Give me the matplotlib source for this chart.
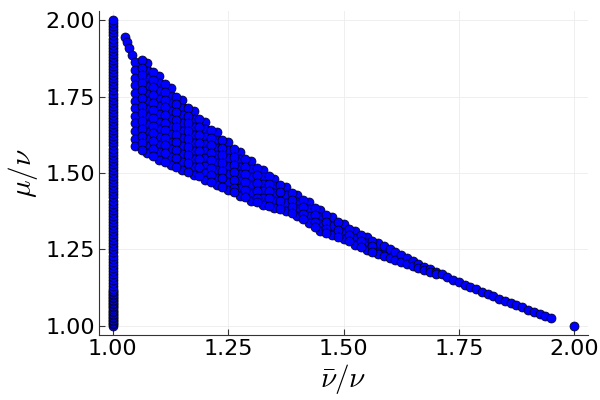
import numpy as np
import matplotlib
matplotlib.use("Agg")
import matplotlib.pyplot as plt

# --- data --- #
# column of points at nu_bar/nu = 1
spine_x = 1.0
spine_y = [1.00, 1.005, 1.01, 1.015, 1.02, 1.025, 1.03, 1.035, 1.04, 1.045,
           1.05, 1.055, 1.06, 1.065, 1.07, 1.075, 1.08, 1.085, 1.09, 1.095,
           1.10, 1.105, 1.11, 1.115, 1.12, 1.13, 1.14, 1.15, 1.16, 1.17,
           1.18, 1.19, 1.20, 1.21, 1.22, 1.23, 1.24, 1.25, 1.26, 1.27,
           1.28, 1.29, 1.30, 1.31, 1.32, 1.33, 1.34, 1.35, 1.36, 1.37,
           1.38, 1.39, 1.40, 1.41, 1.42, 1.43, 1.44, 1.45, 1.46, 1.47,
           1.48, 1.49, 1.50, 1.51, 1.52, 1.53, 1.54, 1.55, 1.56, 1.57,
           1.58, 1.59, 1.60, 1.61, 1.62, 1.63, 1.64, 1.65, 1.66, 1.67,
           1.68, 1.69, 1.70, 1.71, 1.72, 1.73, 1.74, 1.75, 1.76, 1.77,
           1.78, 1.79, 1.80, 1.81, 1.82, 1.83, 1.84, 1.85, 1.86, 1.87,
           1.88, 1.89, 1.90, 1.91, 1.92, 1.93, 1.94, 1.95, 1.96, 1.97,
           1.98, 1.99, 2.00]

# the big band: x of each column and the y values found in it
band_x = [1.026, 1.031, 1.036, 1.041, 1.048, 1.075, 1.10, 1.125, 1.15, 1.175,
          1.20, 1.225, 1.25, 1.275, 1.30, 1.325, 1.35, 1.375, 1.40, 1.425,
          1.45, 1.475, 1.50, 1.525, 1.55, 1.575, 1.5875, 1.60, 1.6125, 1.625,
          1.6375, 1.65, 1.6625, 1.675, 1.6875, 1.70, 1.7125, 1.725, 1.7375, 1.75,
          1.7625, 1.775, 1.7875, 1.80, 1.8125, 1.825, 1.8375, 1.85, 1.8625, 1.875,
          1.8875, 1.90, 1.9125, 1.925, 1.9375, 1.95]
band_y = [
    [1.945], [1.928], [1.908], [1.886],
    [1.862, 1.837, 1.812, 1.787, 1.762, 1.737, 1.712, 1.687, 1.662, 1.637, 1.612, 1.587],
    [1.860, 1.835, 1.810, 1.785, 1.760, 1.735, 1.710, 1.685, 1.660, 1.635, 1.610, 1.588, 1.565],
    [1.818, 1.793, 1.768, 1.743, 1.718, 1.693, 1.668, 1.643, 1.618, 1.593, 1.568, 1.544],
    [1.778, 1.753, 1.728, 1.703, 1.678, 1.653, 1.628, 1.603, 1.578, 1.553, 1.527],
    [1.739, 1.714, 1.689, 1.664, 1.639, 1.614, 1.589, 1.562, 1.536, 1.510],
    [1.702, 1.676, 1.650, 1.624, 1.598, 1.572, 1.546, 1.520, 1.494],
    [1.667, 1.643, 1.619, 1.595, 1.571, 1.548, 1.524, 1.500, 1.477],
    [1.633, 1.608, 1.583, 1.558, 1.533, 1.509, 1.484, 1.460],
    [1.600, 1.574, 1.548, 1.522, 1.496, 1.470, 1.443],
    [1.569, 1.545, 1.521, 1.497, 1.473, 1.450, 1.426],
    [1.538, 1.512, 1.487, 1.461, 1.436, 1.410],
    [1.509, 1.486, 1.464, 1.441, 1.418, 1.396],
    [1.481, 1.457, 1.433, 1.409, 1.385],
    [1.455, 1.428, 1.401, 1.375],
    [1.429, 1.406, 1.383, 1.360],
    [1.404, 1.381, 1.358, 1.335],
    [1.379, 1.356, 1.332, 1.309],
    [1.356, 1.326, 1.296],
    [1.333, 1.308, 1.283],
    [1.311, 1.288, 1.266],
    [1.290, 1.270, 1.249],
    [1.270, 1.235], [1.260, 1.229], [1.250, 1.222], [1.240, 1.216], [1.231, 1.210],
    [1.221, 1.203], [1.212, 1.197], [1.203, 1.190], [1.194, 1.184], [1.185, 1.177],
    [1.176, 1.170], [1.168], [1.159], [1.151], [1.143],
    [1.135], [1.127], [1.119], [1.111], [1.103],
    [1.096], [1.088], [1.081], [1.074], [1.067],
    [1.060], [1.053], [1.046], [1.039], [1.032], [1.026],
]

# points lying between the columns above
stag_x = [1.0625, 1.0875, 1.1125, 1.1375, 1.1625, 1.1875, 1.2125, 1.2375, 1.2625, 1.2875,
          1.3125, 1.3375, 1.3625, 1.3875, 1.4125, 1.4375, 1.4625, 1.4875, 1.5125, 1.5375,
          1.5625]
stag_y = [
    [1.870, 1.845, 1.820, 1.795, 1.770, 1.745, 1.720, 1.695, 1.670, 1.645, 1.620, 1.597, 1.576],
    [1.830, 1.805, 1.780, 1.755, 1.730, 1.705, 1.680, 1.655, 1.630, 1.605, 1.580, 1.556],
    [1.790, 1.765, 1.740, 1.715, 1.690, 1.665, 1.640, 1.615, 1.590, 1.565, 1.536],
    [1.750, 1.725, 1.700, 1.675, 1.650, 1.625, 1.600, 1.575, 1.548, 1.520],
    [1.712, 1.687, 1.662, 1.637, 1.612, 1.586, 1.559, 1.532, 1.504],
    [1.676, 1.650, 1.624, 1.598, 1.572, 1.546, 1.520, 1.490],
    [1.641, 1.616, 1.591, 1.566, 1.541, 1.516, 1.492, 1.470],
    [1.608, 1.583, 1.558, 1.533, 1.508, 1.483, 1.455],
    [1.577, 1.552, 1.527, 1.502, 1.477, 1.452, 1.437],
    [1.546, 1.521, 1.496, 1.471, 1.446, 1.421],
    [1.517, 1.492, 1.467, 1.442, 1.417, 1.405],
    [1.489, 1.465, 1.441, 1.417, 1.393],
    [1.462, 1.437, 1.410, 1.382],
    [1.436, 1.413, 1.390, 1.370],
    [1.411, 1.388, 1.365, 1.350],
    [1.386, 1.363, 1.340, 1.324],
    [1.363, 1.340, 1.318, 1.303],
    [1.340, 1.315, 1.291],
    [1.318, 1.297, 1.276],
    [1.297, 1.278, 1.259],
    [1.277, 1.260, 1.243],
]

# lone point
end_x = [2.0]
end_y = [1.0]

# --- draw --- #
plt.rcParams["mathtext.fontset"] = "cm"
fig = plt.figure(figsize=(6, 4), dpi=100)
ax = fig.add_axes([0.165, 0.1625, 0.815, 0.81])

pts_x = []
pts_y = []
for cols_x, cols_y in [(band_x, band_y), (stag_x, stag_y)]:
    for x, ys in zip(cols_x, cols_y):
        for y in ys:
            pts_x.append(x)
            pts_y.append(y)

# fill under the band so no white shows between columns
tops = [max(ys) for ys in band_y]
bots = [min(ys) for ys in band_y]
ax.fill_between(band_x, bots, tops, color="#0000e0", lw=0, zorder=2)

mk = dict(s=42, c="#0000ff", edgecolors="black", linewidths=0.5, zorder=3)
ax.scatter([spine_x] * len(spine_y), spine_y, **mk)
ax.scatter(pts_x, pts_y, **mk)
ax.scatter(end_x, end_y, **mk)

ax.set_xlim(0.97, 2.03)
ax.set_ylim(0.97, 2.03)
ticks = [1.00, 1.25, 1.50, 1.75, 2.00]
ax.set_xticks(ticks)
ax.set_yticks(ticks)
ax.set_xticklabels(["%.2f" % t for t in ticks])
ax.set_yticklabels(["%.2f" % t for t in ticks])
ax.tick_params(direction="in", length=4, width=0.8, labelsize=16, colors="#333333",
               labelcolor="black", pad=3)
ax.grid(True, color="#ececec", lw=0.6)
ax.set_axisbelow(True)
for s in ["top", "right"]:
    ax.spines[s].set_visible(False)
for s in ["left", "bottom"]:
    ax.spines[s].set_color("#333333")
    ax.spines[s].set_linewidth(0.8)

ax.set_xlabel(r"$\bar{\nu}/\nu$", fontsize=21, labelpad=2)
ax.set_ylabel(r"$\mu/\nu$", fontsize=21, labelpad=4)

fig.savefig("out.png", dpi=100)
